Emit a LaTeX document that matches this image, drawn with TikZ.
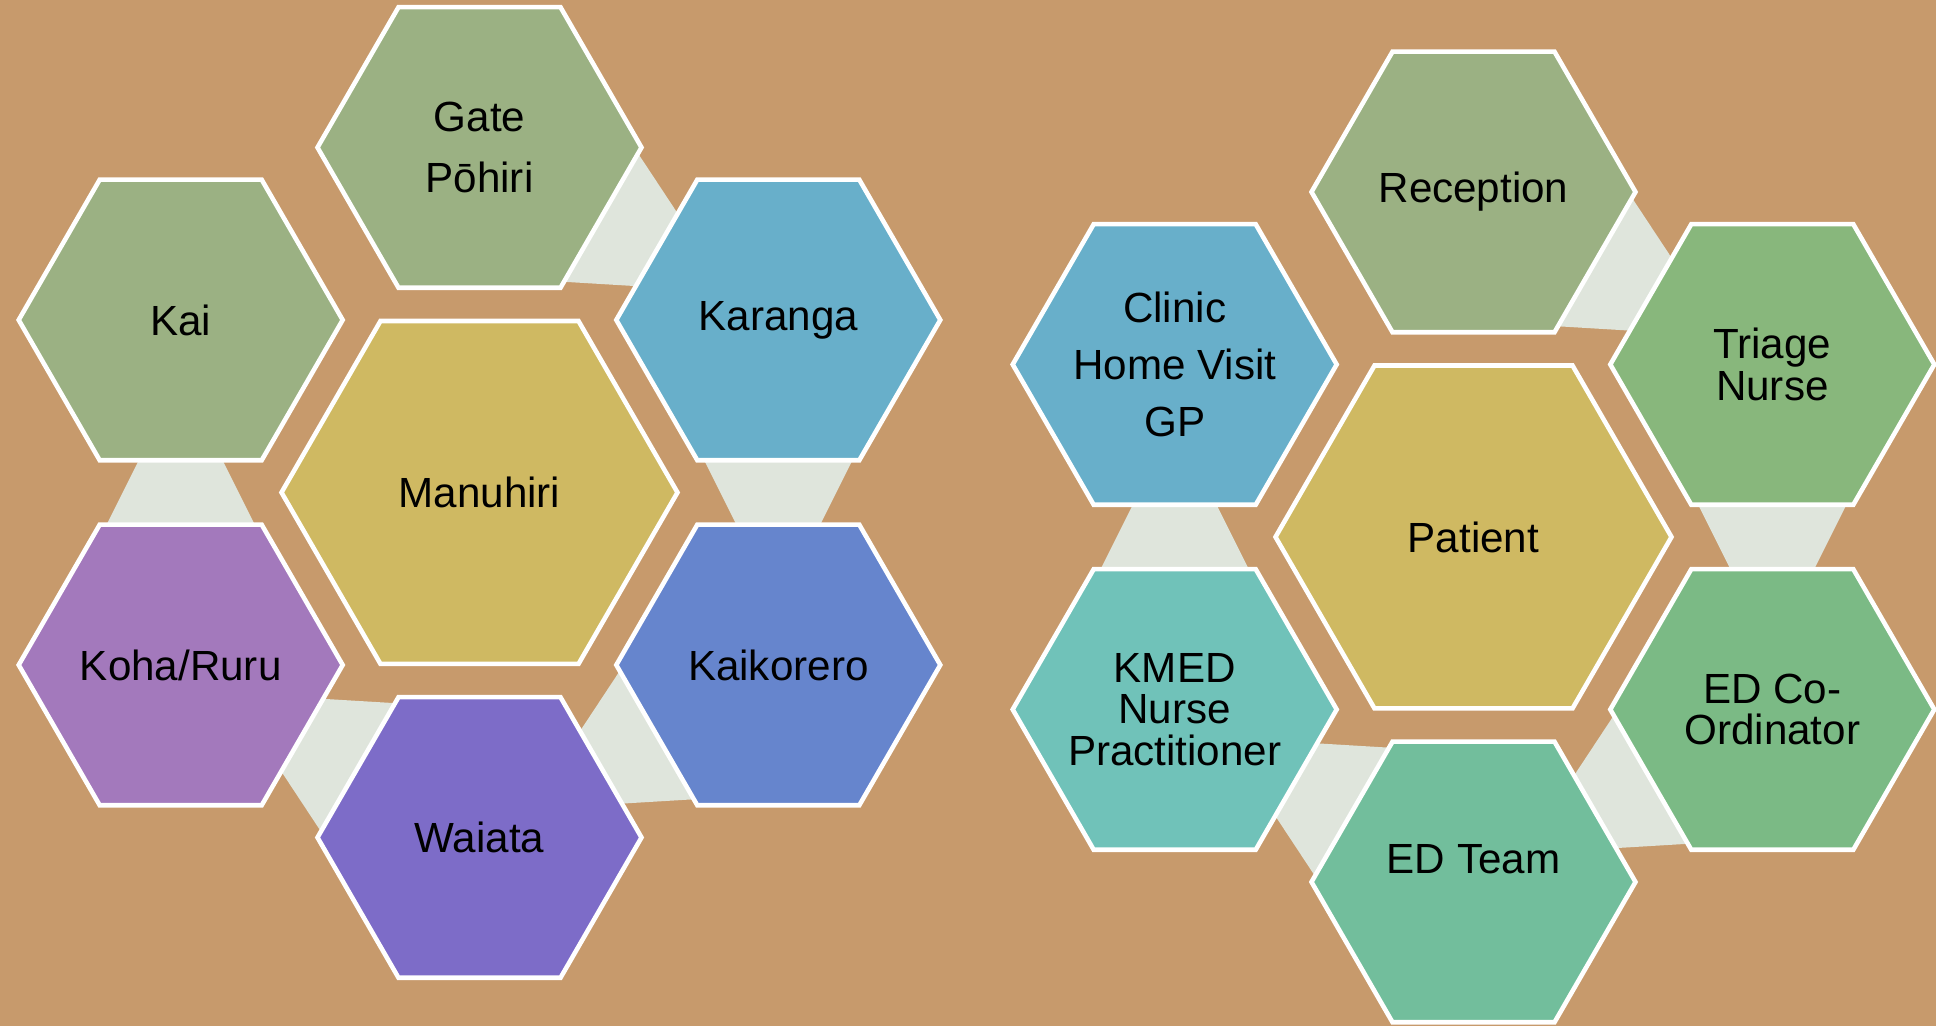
\documentclass[tikz,border=0pt]{standalone}
\usepackage{fontspec}
\setmainfont{Liberation Sans}
\usetikzlibrary{shapes.geometric, calc}
\definecolor{flax}{HTML}{C79A6C}
\definecolor{linkgrey}{HTML}{DFE5DC}
\definecolor{sage}{HTML}{9BB183}
\definecolor{sky}{HTML}{68AFCA}
\definecolor{mustard}{HTML}{CFB962}
\definecolor{orchid}{HTML}{A379BC}
\definecolor{violet}{HTML}{7D6CC8}
\definecolor{cornflower}{HTML}{6685CD}
\definecolor{leaf}{HTML}{88B77C}
\definecolor{fern}{HTML}{7BBA85}
\definecolor{mint}{HTML}{72BE9C}
\definecolor{teal}{HTML}{70C2B9}
\pgfdeclarelayer{back}
\pgfdeclarelayer{links}
\pgfsetlayers{back,links,main}
\tikzset{
  hex/.style={regular polygon, regular polygon sides=6, draw=white, line width=1.3pt,
    minimum size=3.24cm, inner sep=-0.6cm, align=center,
    font=\fontsize{12}{11.8}\selectfont},
  hexbig/.style={hex, minimum size=3.96cm},
  linkfill/.style={fill=linkgrey}
}
% trapezoid between two neighbouring hexagons, wide end at the first one
\newcommand{\hexlink}[2]{%
  \fill[linkfill] let \p1=(#1.center), \p2=(#2.center),
      \n1={atan2(\y2-\y1,\x2-\x1)}, \p3=($(\p1)!0.5!(\p2)$) in
    ($(\p3)+(\n1+180:0.40)+(\n1+90:0.78)$) --
    ($(\p3)+(\n1:0.40)+(\n1+90:0.38)$) --
    ($(\p3)+(\n1:0.40)+(\n1-90:0.38)$) --
    ($(\p3)+(\n1+180:0.40)+(\n1-90:0.78)$) -- cycle;}

\begin{document}
\begin{tikzpicture}
\begin{pgfonlayer}{back}
\fill[flax] (0,0) rectangle (19.36,10.26);
\end{pgfonlayer}
\useasboundingbox (0,0) rectangle (19.36,10.26);

% powhiri
\node[hexbig, fill=mustard] (manuhiri) at (4.795, 5.335) {Manuhiri};
\node[hex, fill=sage] (gate) at (4.795, 8.785) {Gate\\[5.5pt]Pōhiri};
\node[hex, fill=sky] (karanga) at (7.783, 7.06) {Karanga};
\node[hex, fill=cornflower] (kaikorero) at (7.783, 3.61) {Kaikorero};
\node[hex, fill=violet] (waiata) at (4.795, 1.885) {Waiata};
\node[hex, fill=orchid] (koha) at (1.807, 3.61) {Koha/Ruru};
\node[hex, fill=sage] (kai) at (1.807, 7.06) {Kai};

% hospital
\node[hexbig, fill=mustard] (patient) at (14.735, 4.89) {Patient};
\node[hex, fill=sage] (reception) at (14.735, 8.34) {Reception};
\node[hex, fill=leaf] (triage) at (17.723, 6.615) {Triage\\Nurse};
\node[hex, fill=fern] (edco) at (17.723, 3.165) {ED Co-\\Ordinator};
\node[hex, fill=mint] (edteam) at (14.735, 1.44) {\raisebox{0.08cm}[0pt][0pt]{ED Team}};
\node[hex, fill=teal] (kmed) at (11.747, 3.165) {KMED\\Nurse\\Practitioner};
\node[hex, fill=sky] (clinic) at (11.747, 6.615) {Clinic\\[4.5pt]Home Visit\\[4.5pt]GP};

\begin{pgfonlayer}{links}
\hexlink{gate}{karanga}
\hexlink{karanga}{kaikorero}
\hexlink{kaikorero}{waiata}
\hexlink{waiata}{koha}
\hexlink{koha}{kai}
\hexlink{reception}{triage}
\hexlink{triage}{edco}
\hexlink{edco}{edteam}
\hexlink{edteam}{kmed}
\hexlink{kmed}{clinic}
\end{pgfonlayer}
\end{tikzpicture}
\end{document}
